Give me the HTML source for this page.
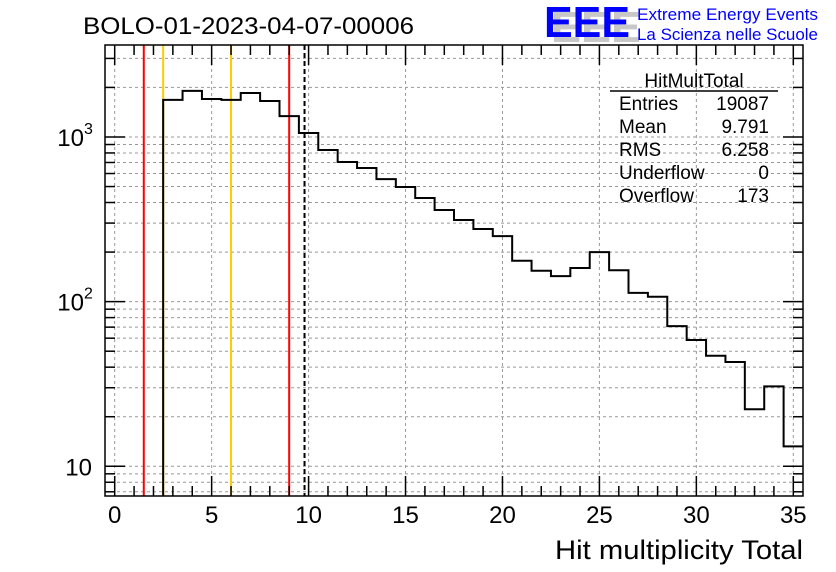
<!DOCTYPE html>
<html><head><meta charset="utf-8"><style>
body{margin:0;background:#fff;}
svg{display:block;font-family:"Liberation Sans",sans-serif;}
</style></head><body>
<svg id="c" width="836" height="572" viewBox="0 0 836 572">
<rect width="836" height="572" fill="#fff"/>
<text x="83" y="34" font-size="24" textLength="331" lengthAdjust="spacingAndGlyphs">BOLO-01-2023-04-07-00006</text>
<g>
<text x="551" y="42" font-size="44" font-weight="bold" fill="#c8c8c8" textLength="90" lengthAdjust="spacingAndGlyphs">EEE</text>
<text x="544" y="37" font-size="44" font-weight="bold" fill="#0000ff" textLength="86" lengthAdjust="spacingAndGlyphs">EEE</text>
<text x="637" y="20" font-size="17" fill="#0000ff" textLength="181" lengthAdjust="spacingAndGlyphs">Extreme Energy Events</text>
<text x="637" y="40" font-size="17" fill="#0000ff" textLength="181" lengthAdjust="spacingAndGlyphs">La Scienza nelle Scuole</text>
</g>
<g id="grid"></g>
<g id="marks"></g>
<g id="axes"></g>
<g font-size="19">
<text x="694" y="87" text-anchor="middle">HitMultTotal</text>
<line x1="610" y1="91" x2="778" y2="91" stroke="#000" stroke-width="1.5"/>
<text x="619" y="110">Entries</text><text x="769" y="110" text-anchor="end">19087</text>
<text x="619" y="133">Mean</text><text x="769" y="133" text-anchor="end">9.791</text>
<text x="619" y="156">RMS</text><text x="769" y="156" text-anchor="end">6.258</text>
<text x="619" y="179">Underflow</text><text x="769" y="179" text-anchor="end">0</text>
<text x="619" y="202">Overflow</text><text x="769" y="202" text-anchor="end">173</text>
</g>
<text x="803" y="559" font-size="27" text-anchor="end" textLength="248" lengthAdjust="spacingAndGlyphs">Hit multiplicity Total</text>
</svg>
<script>
const binCenters=[3,4,5,6,7,8,9,10,11,12,13,14,15,16,17,18,19,20,21,22,23,24,25,26,27,28,29,30,31,32,33,34,35];
const counts=[1680,1905,1700,1680,1850,1655,1340,1057,833,705,648,555,497,426,360,313,276,250,177,154,143,160,200,155,113,107,71,58.5,46.9,43,22.2,30.6,13.2];
const xTicks=[0,5,10,15,20,25,30,35];
const yTicks=[10,100,1000];
const yTickLabels=["10","10","10"];
const yTickExp=["","2","3"];
const redLines=[1.5,9];
const orangeLines=[2.5,6];
const meanLine=[9.791];
const L=105,R=803,T=45,B=496,xmin=-0.5,xmax=35.5,ymin=6.6,ymax=3620;
const X=v=>L+(v-xmin)/(xmax-xmin)*(R-L);
const Y=v=>B-(Math.log10(v)-Math.log10(ymin))/(Math.log10(ymax)-Math.log10(ymin))*(B-T);
const NS="http://www.w3.org/2000/svg";
function mk(p,t,a){const e=document.createElementNS(NS,t);for(const k in a)e.setAttribute(k,a[k]);p.appendChild(e);return e;}
const grid=document.getElementById('grid'),marks=document.getElementById('marks'),axes=document.getElementById('axes');
xTicks.forEach(t=>{const g=mk(grid,'line',{x1:X(t),x2:X(t),y1:T,y2:B,stroke:'#999','stroke-dasharray':'3,3','stroke-width':1});

});
for(let d=1;d<=1000;d*=10)for(let m=1;m<10;m++){const v=d*m;if(v<ymin||v>ymax)continue;
const g=mk(grid,'line',{x1:L,x2:R,y1:Y(v),y2:Y(v),stroke:'#999','stroke-dasharray':'3,3','stroke-width':1});


const a=m===1?20:10;
mk(axes,'line',{x1:L,x2:L+a,y1:Y(v),y2:Y(v),stroke:'#000','stroke-width':1.5});
mk(axes,'line',{x1:R,x2:R-a,y1:Y(v),y2:Y(v),stroke:'#000','stroke-width':1.5});}
redLines.forEach(v=>{const e=mk(marks,'line',{x1:X(v),x2:X(v),y1:T,y2:B,stroke:'#ff0000','stroke-width':2});

});
orangeLines.forEach(v=>{const e=mk(marks,'line',{x1:X(v),x2:X(v),y1:T,y2:B,stroke:'#ffcc00','stroke-width':2});

});
meanLine.forEach(v=>{const e=mk(marks,'line',{x1:X(v),x2:X(v),y1:T,y2:B,stroke:'#000','stroke-width':2,'stroke-dasharray':'5,3'});

});
let d='M'+X(binCenters[0]-0.5)+','+B;
binCenters.forEach((c,i)=>{d+=' L'+X(c-0.5)+','+Y(counts[i])+' L'+X(c+0.5)+','+Y(counts[i]);});
const h=mk(marks,'path',{d:d,fill:'none',stroke:'#000','stroke-width':2});


const fr=mk(axes,'rect',{x:L,y:T,width:R-L,height:B-T,fill:'none',stroke:'#000','stroke-width':1.5});


for(let v=0;v<=35;v++){const a=v%5===0?20:10;
mk(axes,'line',{x1:X(v),x2:X(v),y1:B,y2:B-a,stroke:'#000','stroke-width':1.5});
mk(axes,'line',{x1:X(v),x2:X(v),y1:T,y2:T+a,stroke:'#000','stroke-width':1.5});}
xTicks.forEach(t=>{const e=mk(axes,'text',{x:X(t),y:523,'font-size':24,'text-anchor':'middle'});e.textContent=t;

});
yTicks.forEach((t,i)=>{const e=mk(axes,'text',{x:yTickExp[i]?84:92,y:Y(t)+9,'font-size':24,'text-anchor':'end'});e.textContent=yTickLabels[i];


if(yTickExp[i]){const s=mk(axes,'text',{x:84,y:Y(t)-3,'font-size':16});s.textContent=yTickExp[i];}});
</script>
</body></html>
